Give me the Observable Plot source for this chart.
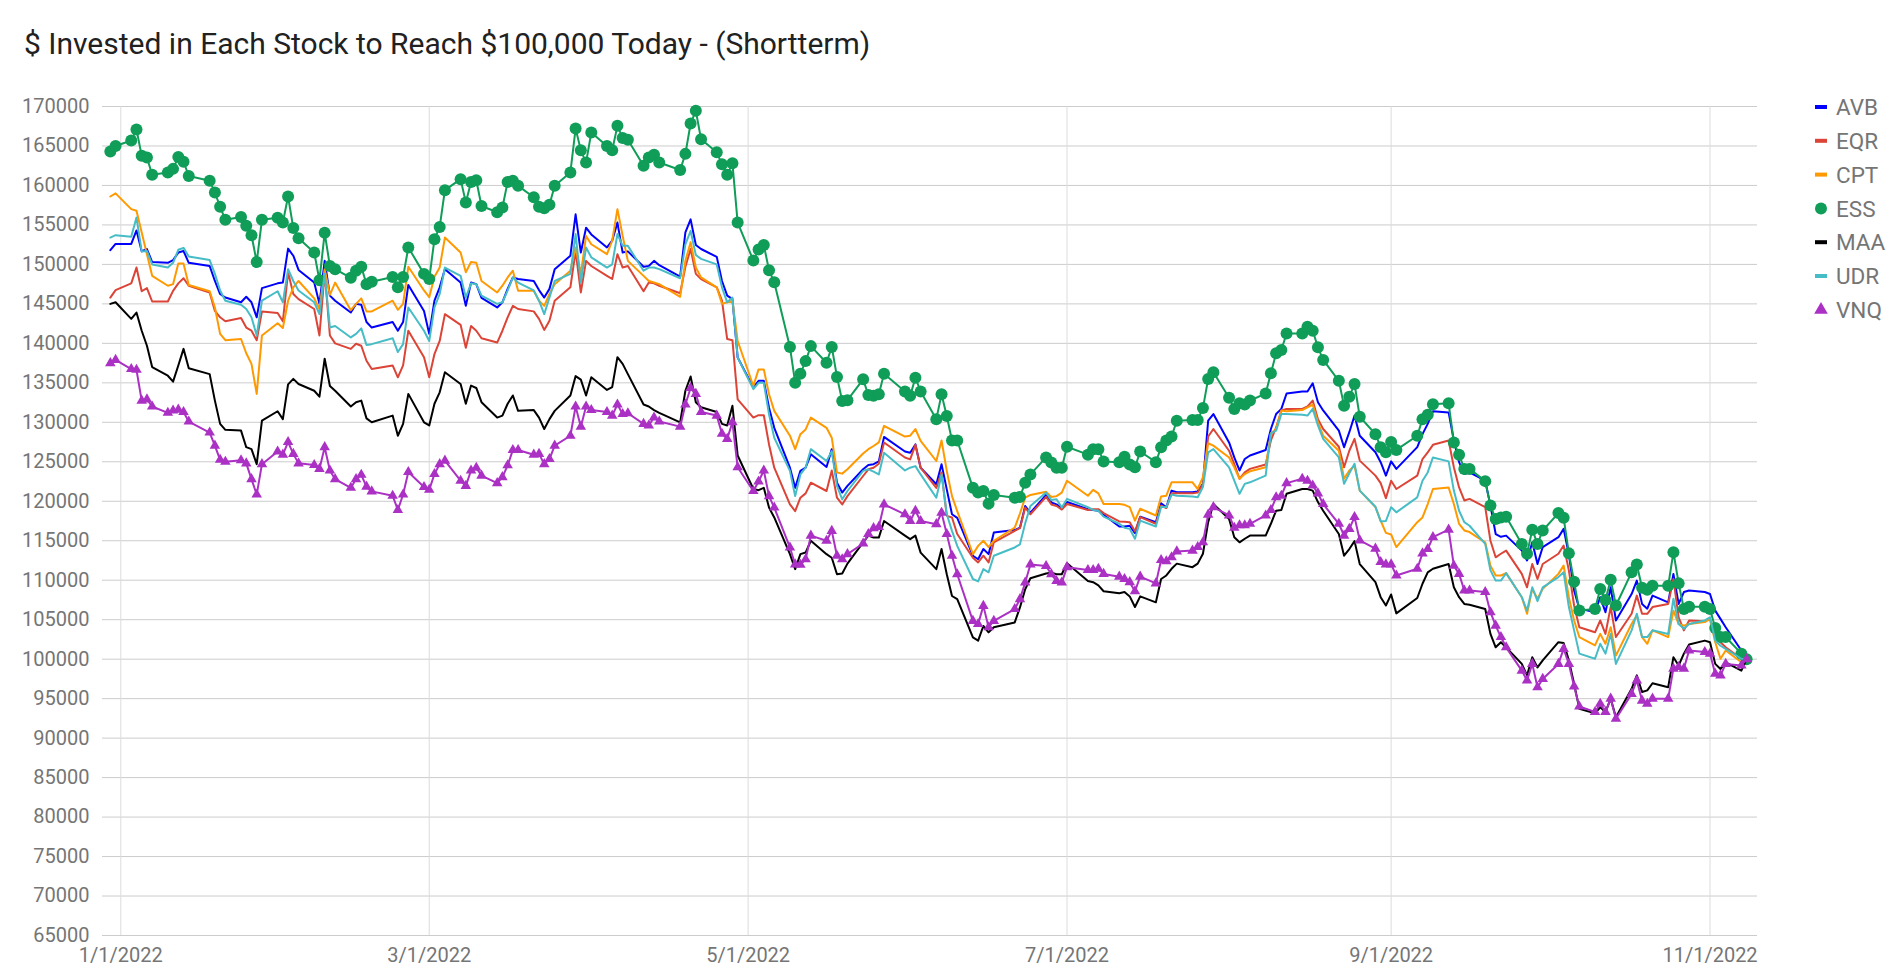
<!DOCTYPE html>
<html><head><meta charset="utf-8">
<script src="https://cdn.jsdelivr.net/npm/d3@7"></script>
<script src="https://cdn.jsdelivr.net/npm/@observablehq/plot@0.6"></script>
<style>
body{margin:0;background:#fff;font-family:Roboto,sans-serif;}
#wrap{position:relative;width:1896px;height:972px;overflow:hidden;background:#fff}
#title{height:70px;box-sizing:border-box;padding:29px 0 0 24px;font-size:30px;line-height:1;color:#212121;white-space:nowrap}
#legend{position:absolute;left:1800px;top:80px}
</style></head>
<body><div id="wrap"><div id="title">$ Invested in Each Stock to Reach $100,000 Today - (Shortterm)</div><div id="chart"></div><div id="legend"></div></div>
<script>
// trading days (month, days)
const monthDays = [
  ["2021-12",[30,31]],
  ["2022-01",[3,4,5,6,7,10,11,12,13,14,18,19,20,21,24,25,26,27,28,31]],
  ["2022-02",[1,2,3,4,7,8,9,10,11,14,15,16,17,18,22,23,24,25,28]],
  ["2022-03",[1,2,3,4,7,8,9,10,11,14,15,16,17,18,21,22,23,24,25,28,29,30,31]],
  ["2022-04",[1,4,5,6,7,8,11,12,13,14,18,19,20,21,22,25,26,27,28,29]],
  ["2022-05",[2,3,4,5,6,9,10,11,12,13,16,17,18,19,20,23,24,25,26,27,31]],
  ["2022-06",[1,2,3,6,7,8,9,10,13,14,15,16,17,21,22,23,24,27,28,29,30]],
  ["2022-07",[1,5,6,7,8,11,12,13,14,15,18,19,20,21,22,25,26,27,28,29]],
  ["2022-08",[1,2,3,4,5,8,9,10,11,12,15,16,17,18,19,22,23,24,25,26,29,30,31]],
  ["2022-09",[1,2,6,7,8,9,12,13,14,15,16,19,20,21,22,23,26,27,28,29,30]],
  ["2022-10",[3,4,5,6,7,10,11,12,13,14,17,18,19,20,21,24,25,26,27,28,31]],
  ["2022-11",[1,2,3,4,7,8]]
];

// values in thousands of dollars
const avb = [151.8,152.6,
152.6,154.3,151.65,151.95,150.3,150.2,150.55,151.5,151.7,150.2,149.8,147.9,146.25,145.8,145.2,145.9,145.2,143.3,147.0,147.6,
147.7,152.0,151.1,149.3,147.7,145.0,150.45,146.05,145.4,143.9,145.0,144.9,142.7,142.0,142.7,141.6,142.7,147.4,144.1,
141.2,145.4,147.1,149.4,147.7,144.75,147.7,147.5,145.75,144.55,145.2,146.9,148.35,148.15,147.9,146.75,145.8,146.9,149.4,151.1,156.35,151.5,154.65,
153.8,152.15,153.0,155.3,151.5,151.65,149.7,149.8,150.45,149.9,148.45,154.05,155.7,152.45,151.95,150.95,147.9,146.05,145.6,138.2,
134.4,135.25,135.25,131.85,129.3,124.25,121.7,123.85,124.25,125.95,124.35,126.6,122.35,121.1,121.95,124.05,124.6,124.7,125.05,128.15,126.3,
126.15,127.2,124.25,122.15,124.7,121.5,118.35,117.9,113.1,112.65,113.95,113.3,116.05,116.35,116.65,119.4,118.55,120.8,119.85,119.6,119.1,
119.9,119.0,118.9,118.8,118.3,116.8,116.8,116.9,115.95,118.05,117.35,119.75,119.25,121.35,121.15,121.15,121.25,122.2,130.2,131.05,
127.45,125.55,123.9,125.35,125.8,126.5,129.15,131.05,131.7,133.65,133.9,133.9,134.95,132.55,131.5,128.95,126.85,128.75,130.85,128.3,126.2,124.95,123.25,
125.05,124.1,126.85,128.5,129.8,131.4,131.25,127.7,124.95,123.45,123.65,122.6,119.45,115.85,115.5,115.65,113.75,112.5,114.8,112.05,114.2,
115.45,116.5,113.25,108.7,106.4,105.95,107.85,105.95,109.1,104.9,108.25,109.95,107.0,106.4,108.05,107.2,110.8,107.0,108.5,108.7,108.5,
108.25,106.15,105.1,104.05,101.1,100.0];

const eqr = [145.8,146.75,
147.6,149.6,146.6,147.0,145.3,145.3,146.65,147.6,148.25,147.3,146.45,144.1,143.3,142.8,143.2,142.0,141.6,140.4,144.05,143.85,
142.8,149.0,146.25,145.6,144.35,141.0,149.0,141.0,140.0,139.3,139.95,139.7,137.8,136.75,137.2,135.7,137.2,141.6,138.25,
135.7,138.65,140.3,143.7,142.35,139.45,142.2,141.6,140.65,140.1,141.6,143.3,144.75,144.35,144.05,143.1,141.7,142.85,145.4,147.1,151.7,146.45,150.45,
149.8,148.55,148.15,151.3,149.6,149.8,146.6,147.7,147.6,147.3,146.35,149.7,151.95,148.8,148.15,147.1,145.4,140.55,140.4,132.9,
130.6,130.9,130.9,127.2,124.25,119.6,118.75,120.45,121.0,122.35,121.3,123.9,120.45,119.6,120.65,123.2,124.05,124.25,124.75,127.45,125.55,
125.3,127.15,124.25,121.7,123.65,118.15,117.95,115.85,112.85,112.25,113.1,112.25,114.8,116.25,116.6,119.2,118.35,120.55,119.6,119.4,118.95,
119.65,118.9,119.0,119.0,118.5,117.45,117.4,117.35,116.2,118.0,117.15,119.45,119.15,121.0,121.0,121.0,121.1,122.2,128.2,129.15,
126.4,124.7,122.85,123.65,124.1,124.65,127.7,129.35,131.5,131.7,131.7,132.0,132.75,130.4,129.15,126.9,124.3,126.4,127.9,125.15,123.25,122.3,120.4,
122.6,121.55,123.25,125.35,126.2,127.15,127.7,124.3,121.75,120.1,120.3,119.25,115.0,112.9,113.35,113.75,110.8,109.1,112.05,110.15,112.05,
113.35,114.4,111.25,106.8,104.05,103.4,104.9,103.2,106.6,102.8,105.75,108.05,105.75,105.75,106.6,107.0,110.15,105.3,103.65,104.9,104.8,
105.1,102.8,102.15,101.5,100.05,100.0];

const cpt = [158.6,159.0,
157.0,156.8,154.05,151.3,148.55,147.3,147.5,150.1,150.1,147.4,146.6,144.55,141.2,140.4,140.55,138.75,137.4,133.6,141.0,142.55,
141.95,145.4,147.1,147.9,145.7,144.35,149.4,146.15,147.7,144.2,145.0,145.7,144.05,144.05,145.4,144.25,145.0,149.7,146.7,
145.85,148.45,149.6,153.4,151.5,149.0,150.3,150.2,147.9,146.45,147.3,148.35,149.2,146.65,146.65,145.4,144.75,146.25,147.5,149.2,152.15,148.8,153.6,
152.55,151.3,153.0,157.0,153.6,150.45,148.55,147.9,147.7,147.5,145.9,150.45,152.8,149.6,148.35,147.1,145.0,145.2,145.4,140.3,
134.6,136.7,136.7,133.55,131.45,128.3,126.6,128.5,129.1,130.6,129.3,128.05,123.65,123.5,124.05,126.05,126.6,127.0,127.45,129.55,128.2,
128.3,129.15,127.65,125.1,127.7,123.85,120.65,118.75,113.3,114.35,115.0,114.2,115.0,116.65,118.45,120.45,120.8,121.2,120.55,120.65,121.1,
122.6,120.7,121.45,121.0,119.65,119.65,119.55,119.25,117.55,119.05,118.2,120.6,120.7,122.4,122.4,122.4,121.55,123.05,127.35,127.05,
125.55,124.3,122.85,123.45,123.8,124.3,128.6,129.15,131.5,131.4,131.55,131.9,132.25,130.0,128.3,126.4,122.85,123.9,124.5,121.35,119.25,117.55,116.0,
115.8,114.2,117.35,117.95,119.65,121.55,121.75,119.65,117.15,116.3,116.1,114.8,111.85,110.6,110.6,110.9,107.85,105.75,108.9,107.65,108.9,
110.8,111.85,107.85,104.9,102.8,101.75,103.2,101.95,104.05,100.45,104.45,105.55,102.8,101.95,103.65,102.8,106.15,104.45,104.25,104.45,104.7,
105.1,102.15,100.05,101.1,99.6,100.0];

const ess = [164.3,165.0,
165.7,167.1,163.75,163.55,161.35,161.65,162.1,163.6,163.0,161.2,160.6,159.1,157.3,155.65,156.0,154.9,153.7,150.3,155.65,155.9,
155.3,158.6,154.6,153.3,151.5,148.0,154.0,149.8,149.4,148.3,149.2,149.7,147.5,147.8,148.4,147.1,148.4,152.15,148.8,
148.15,153.2,154.75,159.4,160.8,157.85,160.45,160.65,157.4,156.6,157.2,160.45,160.6,159.95,158.5,157.3,157.1,157.55,159.95,161.65,167.2,164.45,162.9,
166.7,165.0,164.45,167.55,166.0,165.8,162.5,163.55,163.9,162.9,161.95,164.0,167.85,169.45,165.85,164.2,162.7,161.35,162.8,155.3,
150.5,151.9,152.45,149.25,147.75,139.55,135.0,136.15,137.75,139.65,137.55,139.55,135.75,132.7,132.8,135.45,133.45,133.35,133.55,136.15,133.9,
133.35,135.65,133.9,130.4,133.55,130.8,127.7,127.7,121.7,121.1,121.3,119.7,120.8,120.45,120.55,122.35,123.4,125.55,124.9,124.25,124.25,
126.9,125.9,126.6,126.6,125.05,124.95,125.65,124.65,124.3,126.3,124.95,126.85,127.7,128.2,130.2,130.3,130.3,131.8,135.5,136.35,
133.1,131.7,132.4,132.25,132.75,133.65,136.2,138.75,139.15,141.25,141.25,142.1,141.6,139.5,137.9,135.25,132.1,133.25,134.85,130.7,128.5,126.85,126.2,
127.5,126.5,128.3,130.4,130.95,132.3,132.4,127.45,125.9,124.1,124.1,122.55,119.45,117.75,117.95,118.05,114.6,113.35,116.4,114.6,116.3,
118.5,117.9,113.4,109.8,106.15,106.35,108.9,107.5,110.05,106.8,111.0,112.0,109.05,108.8,109.3,109.3,113.55,109.6,106.35,106.65,106.65,
106.35,103.95,102.8,102.8,100.7,100.0];

const maa = [145.0,145.2,
143.1,143.9,141.6,139.7,137.0,135.9,135.15,137.2,139.3,136.85,136.1,132.75,129.8,129.05,128.95,126.85,126.6,124.7,130.2,131.4,
130.4,134.8,135.5,134.85,134.0,133.25,138.05,134.6,134.0,132.0,132.55,132.75,130.5,130.0,130.85,128.3,129.8,133.6,130.0,
129.6,132.35,133.8,136.35,134.85,132.35,134.65,134.35,132.55,130.6,130.85,132.35,133.4,131.45,131.55,130.6,129.15,130.4,131.45,133.4,135.85,135.4,133.4,
135.7,134.1,134.45,138.25,137.4,136.1,132.25,132.0,131.55,131.2,130.0,134.0,135.8,132.55,131.9,131.3,129.8,129.6,132.1,125.8,
121.55,121.4,121.7,119.2,117.95,113.3,111.4,113.3,113.5,115.0,113.3,112.85,110.75,110.85,112.1,114.8,115.65,115.4,115.4,117.5,115.65,
115.2,115.65,113.5,111.4,113.95,110.75,108.0,107.6,102.75,102.35,104.2,103.4,104.05,104.65,106.55,108.85,110.25,110.85,110.95,110.75,110.75,
112.15,109.9,109.75,109.35,108.6,108.35,108.5,107.95,106.6,107.95,107.2,110.15,110.6,111.45,112.1,111.65,112.1,113.35,117.35,119.65,
117.75,115.45,114.8,115.25,115.65,115.65,117.15,118.8,118.9,120.95,121.55,121.55,121.35,119.9,118.8,115.85,113.1,113.95,114.95,112.05,109.75,107.85,106.8,
108.2,105.8,107.75,109.55,111.0,111.45,112.05,109.1,107.85,107.0,106.9,106.35,103.2,101.5,102.15,101.5,99.4,97.95,100.25,98.95,99.85,
102.15,102.05,99.85,96.9,93.7,93.15,93.9,93.3,95.0,92.65,96.25,97.95,95.85,96.05,96.95,96.45,100.25,99.2,100.7,101.85,102.35,
102.15,99.4,98.75,99.6,98.55,100.0];

const udr = [153.4,153.7,
153.5,155.95,151.65,151.7,150.0,149.6,150.2,151.85,152.1,151.0,150.55,148.8,146.7,145.4,144.9,144.35,143.3,141.0,145.4,146.6,
145.2,149.4,147.9,146.7,145.2,143.7,148.8,142.0,142.2,140.75,141.2,141.9,139.8,139.9,140.65,138.9,139.9,144.55,141.6,
140.3,144.55,146.25,149.6,148.55,145.8,147.6,147.5,146.05,145.0,145.2,146.7,148.35,147.7,146.7,145.4,143.7,145.8,147.9,148.8,153.85,147.7,152.15,
150.9,149.6,150.0,153.85,152.35,152.35,149.2,149.6,149.6,149.4,148.25,152.55,154.25,151.2,150.7,150.0,147.1,145.2,145.8,138.2,
134.2,135.0,135.0,131.0,128.05,123.85,120.65,123.4,124.25,126.6,125.1,126.35,121.95,120.25,121.3,123.85,124.05,123.75,123.4,126.15,123.9,
124.25,124.45,123.4,120.45,123.4,118.35,116.25,114.35,110.15,109.85,111.4,111.0,113.1,114.15,114.55,117.2,119.4,121.1,120.15,120.25,119.2,
120.3,119.25,118.9,118.8,118.05,117.15,116.65,116.5,115.25,117.55,116.8,119.3,119.25,120.85,120.7,120.6,120.5,121.8,126.2,126.6,
124.3,122.6,120.95,122.2,122.4,123.25,128.6,128.95,131.05,131.05,130.95,130.85,131.7,129.6,127.9,125.55,122.2,123.55,124.75,121.35,119.3,117.45,117.5,
119.25,118.6,120.5,122.6,123.65,125.55,125.05,121.35,118.8,117.35,116.9,114.6,111.25,109.95,109.95,110.9,107.85,106.15,109.1,107.35,109.1,
110.4,111.0,106.6,103.65,100.7,100.05,101.95,100.7,103.2,99.4,103.65,105.75,102.8,102.8,103.65,103.2,107.65,104.45,103.85,104.45,104.9,
105.3,102.35,101.7,101.3,100.05,100.0];

const vnq = [137.5,137.9,
136.75,136.65,132.75,132.9,132.0,131.2,131.5,131.6,131.3,130.1,128.7,127.05,125.25,125.0,125.2,124.8,122.8,120.85,124.7,126.3,
125.9,127.5,126.0,124.8,124.6,124.1,126.85,123.9,122.8,121.7,122.8,123.35,121.85,121.25,120.7,118.9,120.85,123.7,121.8,
121.45,123.45,124.7,125.15,122.6,121.95,123.9,124.25,123.25,122.3,123.05,124.55,126.5,126.5,125.9,126.0,124.7,125.35,127.05,128.3,132.0,129.45,132.0,
131.55,131.3,130.85,132.25,131.05,131.15,129.8,129.6,130.6,130.1,129.45,132.25,134.35,133.6,131.3,130.85,128.55,127.9,130.0,124.3,
121.3,122.5,123.9,120.65,119.2,114.15,112.0,111.95,112.65,115.65,115.0,116.25,113.1,112.65,113.3,114.65,115.85,116.6,116.75,119.6,118.35,
117.5,118.8,117.5,117.1,118.55,115.85,113.1,110.75,104.85,104.45,106.75,104.05,104.85,106.35,107.6,109.7,112.0,111.8,110.75,109.9,109.7,
111.65,111.3,111.3,111.45,110.8,110.45,110.15,109.75,108.6,110.45,109.6,112.55,112.4,112.9,113.65,113.75,114.2,114.8,118.3,119.25,
118.2,116.65,116.95,116.95,117.15,118.2,118.9,120.5,120.7,122.3,122.85,122.6,122.0,121.0,119.65,117.15,115.65,116.5,118.0,115.05,114.0,112.3,112.0,
112.0,110.6,111.45,113.4,113.95,115.45,116.4,111.85,110.8,108.7,108.7,108.5,105.95,104.25,102.8,101.5,98.55,97.3,99.4,96.45,97.5,
99.4,101.3,99.4,96.55,94.0,93.3,94.35,93.3,95.0,92.45,95.6,97.3,94.75,94.35,95.0,95.0,98.8,99.0,98.8,101.1,100.9,
100.7,98.15,97.95,99.4,99.2,100.0];

const seriesNames = ["AVB","EQR","CPT","ESS","MAA","UDR","VNQ"];
const seriesValues = [avb, eqr, cpt, ess, maa, udr, vnq];
const seriesColors = ["#0000ff","#db4437","#ff9900","#0f9d58","#000000","#46bdc6","#ab30c4"];
const seriesMarker = [null,null,null,"circle",null,null,"triangle"];

const yTicks = d3.range(65000, 170001, 5000);
const xTicks = ["2022-01-01","2022-03-01","2022-05-01","2022-07-01","2022-09-01","2022-11-01"].map(s => new Date(s + "T00:00:00Z"));

// build table
const dates = [];
for (const [ym, days] of monthDays) for (const d of days) dates.push(new Date(`${ym}-${String(d).padStart(2,"0")}T00:00:00Z`));
const table = [];
seriesNames.forEach((name, k) => {
  const vals = seriesValues[k];
  if (vals.length !== dates.length) console.warn(name, vals.length, dates.length);
  vals.forEach((v, i) => { if (i < dates.length) table.push({series: name, date: dates[i], value: v * 1000}); });
});

const fmtDate = d => `${d.getUTCMonth()+1}/${d.getUTCDate()}/${d.getUTCFullYear()}`;

const marks = [
  Plot.ruleY(yTicks, {stroke: "#cccccc", strokeWidth: 1}),
  Plot.ruleX(xTicks, {stroke: "#dcdcdc", strokeWidth: 1}),
  Plot.axisY({ticks: yTicks, tickSize: 0, tickPadding: 13, tickFormat: d3.format("d"), label: null}),
  Plot.axisX({ticks: xTicks, tickSize: 0, tickPadding: 12, tickFormat: fmtDate, label: null})
];
seriesNames.forEach((name, k) => {
  const data = table.filter(d => d.series === name);
  marks.push(Plot.line(data, {x: "date", y: "value", stroke: seriesColors[k], strokeWidth: 2, strokeLinejoin: "round"}));
  if (seriesMarker[k] === "circle") marks.push(Plot.dot(data, {x: "date", y: "value", r: 6, fill: seriesColors[k], stroke: "none"}));
  if (seriesMarker[k] === "triangle") marks.push(Plot.dot(data, {x: "date", y: "value", r: 3.9, symbol: "triangle", fill: seriesColors[k], stroke: "none"}));
});

const chart = Plot.plot({
  width: 1896, height: 902,
  marginTop: 36, marginBottom: 37, marginLeft: 102, marginRight: 139,
  style: {fontFamily: "Roboto, sans-serif", fontSize: "20px", color: "#757575", background: "white", overflow: "visible"},
  x: {type: "utc", domain: [new Date(Date.UTC(2021,11,28,12)), new Date(Date.UTC(2022,10,10,2))]},
  y: {domain: [65000, 170000]},
  marks
});
document.getElementById("chart").appendChild(chart);

// legend
const lg = d3.select("#legend").append("svg").attr("width", 96).attr("height", 260)
  .style("font-family", "Roboto, sans-serif").style("font-size", "22.5px");
seriesNames.forEach((name, k) => {
  const cy = 27 + k * 33.8;
  const g = lg.append("g").attr("transform", `translate(0,${cy})`);
  if (seriesMarker[k] === "circle") g.append("circle").attr("cx", 21).attr("cy", 0).attr("r", 6).attr("fill", seriesColors[k]);
  else if (seriesMarker[k] === "triangle") g.append("path").attr("d", d3.symbol(d3.symbolTriangle, 80)()).attr("transform", "translate(21,0)").attr("fill", seriesColors[k]);
  else g.append("rect").attr("x", 15).attr("y", -2).attr("width", 12).attr("height", 4).attr("fill", seriesColors[k]);
  g.append("text").attr("x", 36).attr("y", 0).attr("dy", "0.36em").attr("fill", "#757575").text(name);
});
</script>
</body></html>
